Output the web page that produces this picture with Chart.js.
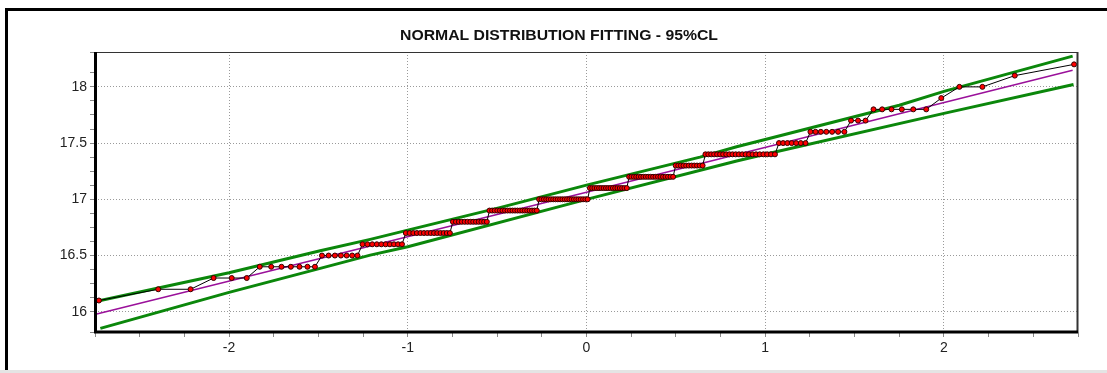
<!DOCTYPE html>
<html>
<head>
<meta charset="utf-8">
<script src="https://cdn.jsdelivr.net/npm/chart.js@4.4.0/dist/chart.umd.min.js"></script>
<style>
  html, body { margin: 0; padding: 0; background: #fff; }
  body { width: 1107px; height: 373px; position: relative; overflow: hidden; }
  #frame { position: absolute; left: 5px; top: 8px; right: -10px; bottom: 2px; border-top: 3px solid #000; border-left: 3px solid #000; }
  #strip { position: absolute; left: 0; right: 0; bottom: 0; height: 3px; background: #e4e4e4; }
  #chart { position: absolute; left: 0; top: 0; }
</style>
</head>
<body>
<div id="frame"></div>
<div id="strip"></div>
<canvas id="chart" width="1107" height="373"></canvas>
<script>
const chartTitle = "NORMAL DISTRIBUTION FITTING - 95%CL";

// observed values (sorted) and how many times each one occurs
const levels = [16.1, 16.2, 16.3, 16.4, 16.5, 16.6, 16.7, 16.8, 16.9, 17.0, 17.1,
                17.2, 17.3, 17.4, 17.5, 17.6, 17.7, 17.8, 17.9, 18.0, 18.1, 18.2];
const counts = [1, 2, 3, 7, 7, 10, 14, 13, 20, 22, 17,
                19, 11, 22, 7, 7, 3, 6, 1, 2, 1, 1];

// fitted normal line
const fitX = [-2.74, 0, 2.72];
const fitY = [15.98, 17.063, 18.148];

// 95% confidence limits
const upperX = [-2.72, -2.0, -1.49, -1.21, -1.0, -0.48, 0, 0.635, 0.84, 1.0, 1.75, 2.0, 2.72];
const upperY = [16.10, 16.347, 16.542, 16.644, 16.726, 16.928, 17.126, 17.375, 17.467, 17.532, 17.837, 17.96, 18.273];
const lowerX = [-2.72, -2.0, -1.49, -1.21, -1.0, 0, 0.84, 1.0, 2.0, 2.725];
const lowerY = [15.852, 16.172, 16.386, 16.504, 16.578, 16.999, 17.34, 17.40, 17.764, 18.021];

// inverse standard normal (Acklam)
function normInv(p) {
  const a = [-3.969683028665376e+01, 2.209460984245205e+02, -2.759285104469687e+02,
             1.383577518672690e+02, -3.066479806614716e+01, 2.506628277459239e+00];
  const b = [-5.447609879822406e+01, 1.615858368580409e+02, -1.556989798598866e+02,
             6.680131188771972e+01, -1.328068155288572e+01];
  const c = [-7.784894002430293e-03, -3.223964580411365e-01, -2.400758277161838e+00,
             -2.549732539343734e+00, 4.374664141464968e+00, 2.938163982698783e+00];
  const d = [7.784695709041462e-03, 3.224671290700398e-01, 2.445134137142996e+00,
             3.754408661907416e+00];
  const pl = 0.02425;
  let q, r;
  if (p < pl) {
    q = Math.sqrt(-2 * Math.log(p));
    return (((((c[0]*q+c[1])*q+c[2])*q+c[3])*q+c[4])*q+c[5]) / ((((d[0]*q+d[1])*q+d[2])*q+d[3])*q+1);
  }
  if (p > 1 - pl) {
    q = Math.sqrt(-2 * Math.log(1 - p));
    return -(((((c[0]*q+c[1])*q+c[2])*q+c[3])*q+c[4])*q+c[5]) / ((((d[0]*q+d[1])*q+d[2])*q+d[3])*q+1);
  }
  q = p - 0.5; r = q * q;
  return (((((a[0]*r+a[1])*r+a[2])*r+a[3])*r+a[4])*r+a[5])*q / (((((b[0]*r+b[1])*r+b[2])*r+b[3])*r+b[4])*r+1);
}

// sample values plotted against their normal scores (Blom positions)
const sample = [];
levels.forEach((v, k) => { for (let j = 0; j < counts[k]; j++) sample.push(v); });
const n = sample.length;
const samplePoints = sample.map((v, i) => ({ x: normInv((i + 1 - 0.375) / (n + 0.25)), y: v }));

const toPoints = (xs, ys) => xs.map((x, i) => ({ x, y: ys[i] }));

const isMultiple = (v, step) => Math.abs(v / step - Math.round(v / step)) < 1e-6;

const labelFont = { family: "'Liberation Sans', Arial, sans-serif", size: 14 };

const framePlugin = {
  id: "frame",
  afterDraw(chart) {
    const { ctx, chartArea: a } = chart;
    ctx.save();
    ctx.strokeStyle = "#333";
    ctx.lineWidth = 1;
    ctx.beginPath();
    ctx.moveTo(a.left, a.top + 0.5);
    ctx.lineTo(a.right, a.top + 0.5);
    ctx.stroke();
    ctx.lineWidth = 2;
    ctx.beginPath();
    ctx.moveTo(a.right - 0.5, a.top);
    ctx.lineTo(a.right - 0.5, a.bottom);
    ctx.stroke();
    ctx.strokeStyle = "#000";
    ctx.lineWidth = 3;
    ctx.beginPath();
    ctx.moveTo(a.left + 0.5, a.top);
    ctx.lineTo(a.left + 0.5, a.bottom);
    ctx.lineTo(a.right, a.bottom);
    ctx.stroke();
    ctx.restore();
  },
};

const titlePlugin = {
  id: "titleText",
  afterDraw(chart) {
    const ctx = chart.ctx;
    ctx.save();
    ctx.font = "bold 15px 'Liberation Sans', Arial, sans-serif";
    ctx.fillStyle = "#111";
    ctx.textAlign = "left";
    ctx.textBaseline = "alphabetic";
    const w = ctx.measureText(chartTitle).width;
    ctx.translate(559 - 159, 40);
    ctx.scale(318 / w, 1);
    ctx.fillText(chartTitle, 0, 0);
    ctx.restore();
  },
};

new Chart(document.getElementById("chart"), {
  type: "scatter",
  data: {
    datasets: [
      {
        label: "Data",
        data: samplePoints,
        showLine: true,
        borderColor: "#000",
        borderWidth: 1,
        pointRadius: 2.5,
        pointBackgroundColor: "#ff0000",
        pointBorderColor: "#300",
        pointBorderWidth: 1,
      },
      {
        label: "Fit",
        data: toPoints(fitX, fitY),
        showLine: true,
        borderColor: "#9a109a",
        borderWidth: 1.5,
        pointRadius: 0,
      },
      {
        label: "Upper CL",
        data: toPoints(upperX, upperY),
        showLine: true,
        borderColor: "#0b870b",
        borderWidth: 3,
        pointRadius: 0,
      },
      {
        label: "Lower CL",
        data: toPoints(lowerX, lowerY),
        showLine: true,
        borderColor: "#0b870b",
        borderWidth: 3,
        pointRadius: 0,
      },
    ],
  },
  options: {
    responsive: false,
    animation: false,
    devicePixelRatio: 1,
    layout: { padding: { top: 52, right: 29, bottom: 0, left: 0 } },
    plugins: {
      legend: { display: false },
      tooltip: { enabled: false },
      title: { display: false },
    },
    scales: {
      x: {
        type: "linear",
        min: -2.75,
        max: 2.75,
        afterFit: (s) => { s.height = 41; },
        ticks: {
          stepSize: 0.25,
          autoSkip: false,
          maxRotation: 0,
          padding: 3,
          color: "#222",
          font: labelFont,
          callback: (v) => (isMultiple(v, 1) ? String(Math.round(v)) : ""),
        },
        grid: {
          color: (c) => (c.tick && isMultiple(c.tick.value, 1) ? "#9a9a9a" : "rgba(0,0,0,0)"),
          lineWidth: 1,
          tickColor: "#888",
          tickLength: 5,
        },
        border: { display: false, dash: [1, 2] },
      },
      y: {
        type: "linear",
        min: 15.82,
        max: 18.31,
        afterFit: (s) => { s.width = 95; },
        ticks: {
          stepSize: 0.125,
          autoSkip: false,
          padding: 3,
          color: "#222",
          font: labelFont,
          callback: (v) => (isMultiple(v, 0.5) ? String(Math.round(v * 10) / 10) : ""),
        },
        grid: {
          color: (c) => (c.tick && isMultiple(c.tick.value, 0.5) ? "#9a9a9a" : "rgba(0,0,0,0)"),
          lineWidth: 1,
          tickColor: "#888",
          tickLength: 5,
        },
        border: { display: false, dash: [1, 2] },
      },
    },
  },
  plugins: [framePlugin, titlePlugin],
});
</script>
</body>
</html>
